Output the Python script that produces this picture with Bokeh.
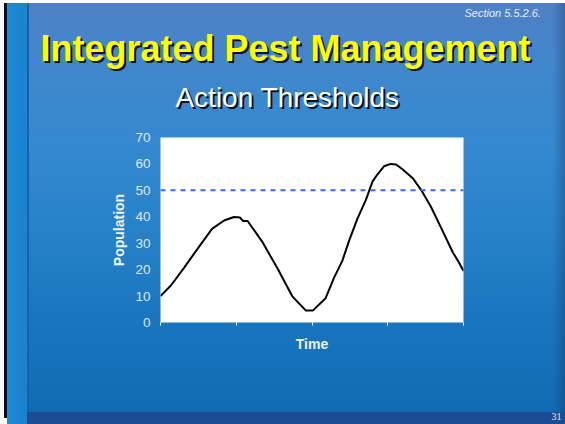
from bokeh.plotting import figure
from bokeh.models import Span, FixedTicker, Range1d, CustomLabelingPolicy
from bokeh.layouts import column, row
from bokeh.core.properties import value
from bokeh.embed import file_html
from bokeh.resources import INLINE

# ---- data ----
time = [0.0, 0.14, 0.31, 0.51, 0.68, 0.84, 0.97, 1.05, 1.09, 1.15, 1.34, 1.54,
        1.74, 1.92, 2.01, 2.18, 2.29, 2.40, 2.49, 2.60, 2.71, 2.80, 2.86, 2.95,
        3.04, 3.11, 3.19, 3.33, 3.44, 3.57, 3.70, 3.86, 3.94, 4.0]
population = [10.0, 14.1, 20.7, 28.7, 35.4, 38.6, 39.9, 39.7, 38.4, 38.4, 30.7, 20.7,
              9.9, 4.5, 4.5, 9.2, 16.9, 23.3, 31.0, 39.3, 46.3, 53.4, 55.9, 59.1,
              60.0, 59.8, 58.1, 54.6, 50.2, 43.8, 36.1, 26.5, 22.7, 19.5]
threshold = 50
y_ticks = [0, 10, 20, 30, 40, 50, 60, 70]
x_ticks = [0, 1, 2, 3, 4]

title_text = "Integrated Pest Management"
subtitle_text = "Action Thresholds"
section_text = "Section 5.5.2.6."
page_text = "31"

W = 565
H_HEAD, H_CHART, H_FOOT = 122, 240, 62
FONT = value("Liberation Sans")


def blank_fig(h):
    f = figure(width=W, height=h, x_range=Range1d(0, W), y_range=Range1d(h, 0),
               output_backend="svg", toolbar_location=None,
               x_axis_type=None, y_axis_type=None,
               min_border=0, min_border_left=0, min_border_right=0,
               min_border_top=0, min_border_bottom=0)
    f.background_fill_color = None
    f.border_fill_color = None
    f.outline_line_color = None
    f.grid.visible = False
    return f


# ---- header (slide title area) ----
head = blank_fig(H_HEAD)
head.text(x=[287], y=[50], text=[title_text], text_font=FONT, text_font_size="36px",
          text_font_style="bold", text_color="#101010", text_align="center",
          text_baseline="alphabetic")
head.text(x=[285], y=[48], text=[title_text], text_font=FONT, text_font_size="36px",
          text_font_style="bold", text_color="#ffff00", text_align="center",
          text_baseline="alphabetic")
head.text(x=[289], y=[99], text=[subtitle_text], text_font=FONT, text_font_size="28px",
          text_color="#101010", text_align="center", text_baseline="alphabetic")
head.text(x=[287], y=[97], text=[subtitle_text], text_font=FONT, text_font_size="28px",
          text_color="white", text_align="center", text_baseline="alphabetic")
head.text(x=[464], y=[12], text=[section_text], text_font=FONT, text_font_size="11px",
          text_font_style="italic", text_color="#e8eef5", text_align="left",
          text_baseline="alphabetic")

# ---- chart ----
p = figure(width=W, height=H_CHART, x_range=(0, 4), y_range=(0, 70),
           output_backend="svg", toolbar_location=None,
           min_border_left=160, min_border_right=102,
           min_border_top=15, min_border_bottom=40)
p.background_fill_color = "white"
p.border_fill_color = None
p.outline_line_color = None
p.grid.visible = False

ya = p.yaxis[0]
ya.ticker = FixedTicker(ticks=y_ticks)
ya.axis_line_color = None
ya.major_tick_line_color = None
ya.minor_tick_line_color = None
ya.major_tick_out = 0
ya.major_tick_in = 0
ya.major_label_standoff = 10
ya.major_label_text_font = "Liberation Sans"
ya.major_label_text_font_size = "13.5px"
ya.major_label_text_color = "#dfe8f2"
ya.axis_label = "Population"
ya.axis_label_text_font = "Liberation Sans"
ya.axis_label_text_font_style = "bold"
ya.axis_label_text_font_size = "14px"
ya.axis_label_text_color = "#eef3f8"
ya.axis_label_standoff = 5

xa = p.xaxis[0]
xa.ticker = FixedTicker(ticks=x_ticks)
xa.axis_line_color = None
xa.major_tick_line_color = "white"
xa.major_tick_line_width = 1
xa.major_tick_out = 3
xa.major_tick_in = 0
xa.minor_tick_line_color = None
xa.major_label_text_font_size = "0px"
xa.major_label_standoff = 0
xa.major_label_policy = CustomLabelingPolicy(
    code="for (const i of indices) { if (i < 0) { yield i } }")
xa.axis_label = "Time"
xa.axis_label_text_font = "Liberation Sans"
xa.axis_label_text_font_style = "bold"
xa.axis_label_text_font_size = "14px"
xa.axis_label_text_color = "#eef3f8"
xa.axis_label_standoff = 10

p.add_layout(Span(location=threshold, dimension="width", line_color="#3366ff",
                  line_width=2, line_dash="5 5"))
p.line(time, population, line_color="black", line_width=2)

# ---- footer (page number) ----
foot = blank_fig(H_FOOT)
foot.text(x=[561], y=[54], text=[page_text], text_font=value("Liberation Serif"),
          text_font_size="10px", text_color="#e8eef5", text_align="right",
          text_baseline="alphabetic")

# ---- slide background ----
bg = ", ".join([
    "linear-gradient(#0d0d0d,#0d0d0d) 4px 3px / 3px 415px no-repeat",
    "linear-gradient(to right,#1f8ad7,#1a82cf) 7px 3px / 20px 421px no-repeat",
    "linear-gradient(#1b4c92,#1b4c92) 27px 412px / 538px 12px no-repeat",
    "linear-gradient(#1662ab,#1662ab) 27px 3px / 2px 409px no-repeat",
    "linear-gradient(to right, rgba(10,40,90,0), rgba(10,40,90,0.3)) 553px 3px / 12px 409px no-repeat",
    "linear-gradient(to bottom,#4f80c4 0%,#4187cc 15%,#3489cf 35%,#2782c9 55%,#1a77bf 75%,#106bb3 100%) 27px 3px / 538px 409px no-repeat",
    "#ffffff",
])

layout = column(row(head, spacing=0), p, row(foot, spacing=0), spacing=0,
                styles={"background": bg})

open("out.html", "w").write(file_html(layout, INLINE))
